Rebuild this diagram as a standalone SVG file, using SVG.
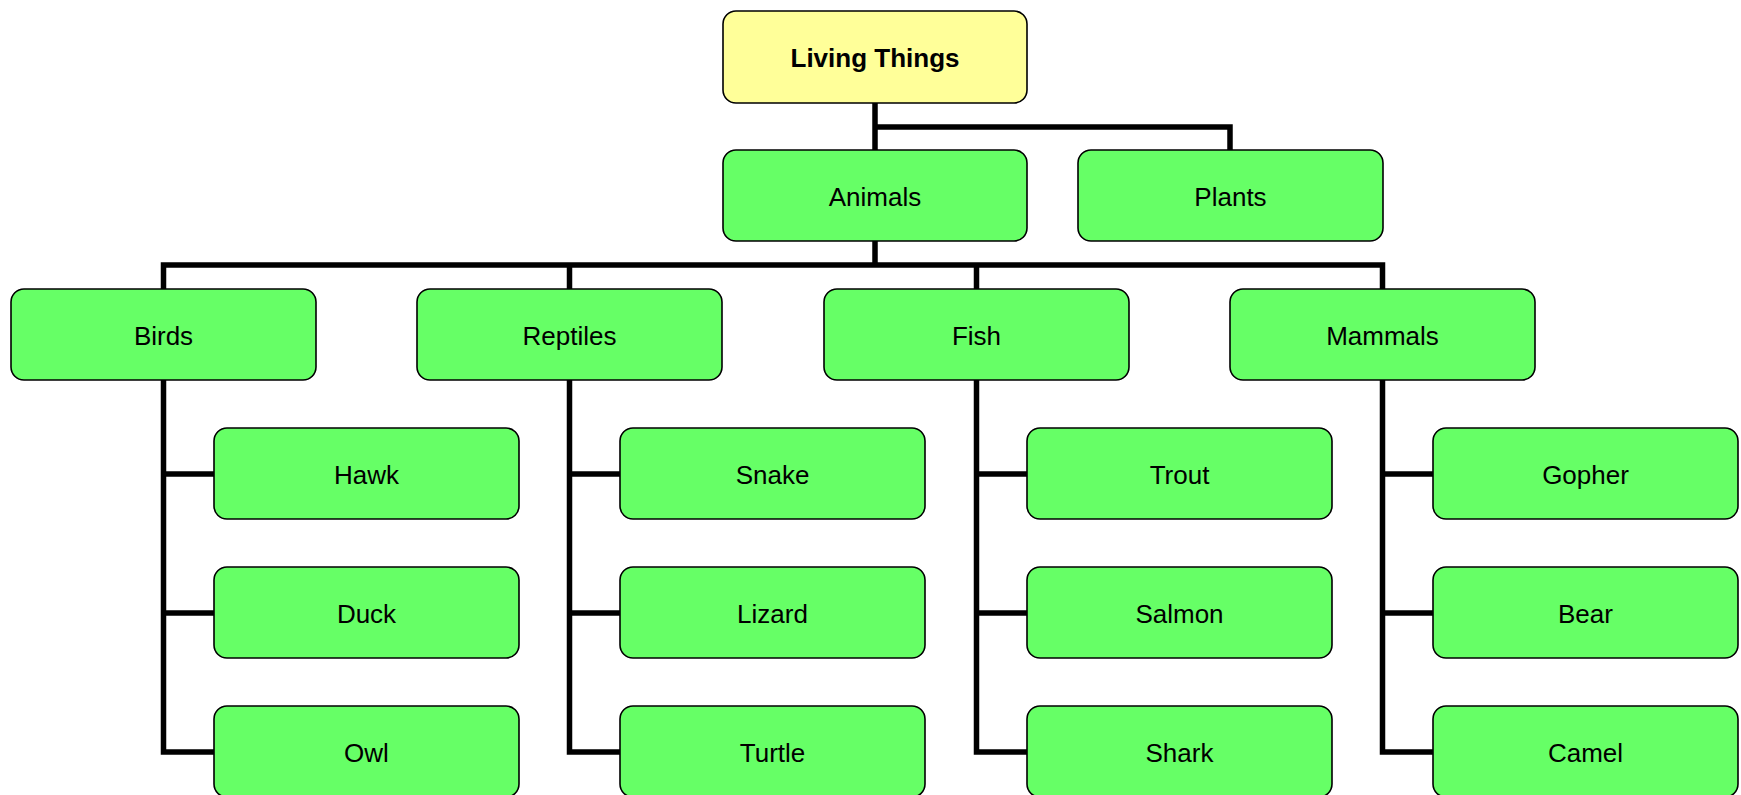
<svg xmlns="http://www.w3.org/2000/svg" width="1741" height="795" viewBox="0 0 1741 795">
<style>
.n rect{fill:#66FF66;stroke:#000;stroke-width:1.6}
.root rect{fill:#FFFF99}
.n text{font-family:"Liberation Sans",Arial,sans-serif;font-size:26px;fill:#000;text-anchor:middle}
.root text{font-weight:bold}
.c{fill:none;stroke:#000;stroke-width:5.5;stroke-linejoin:miter;stroke-linecap:square}
</style>
<rect width="1741" height="795" fill="#fff"/>
<g id="connectors">
<path class="c" d="M875 103V127H1230V150M875 127V150"/>
<path class="c" d="M875 241V265M163.5 289V265H1382.5V289M569.5 265V289M976.5 265V289"/>
<path class="c" d="M163.5 380V752H214M163.5 474H214M163.5 613H214"/>
<path class="c" d="M569.5 380V752H620M569.5 474H620M569.5 613H620"/>
<path class="c" d="M976.5 380V752H1027M976.5 474H1027M976.5 613H1027"/>
<path class="c" d="M1382.5 380V752H1433M1382.5 474H1433M1382.5 613H1433"/>
</g>
<g id="living" class="n root"><rect x="723" y="11" width="304" height="92" rx="13"/><text x="875" y="67">Living Things</text></g>
<g id="animals" class="n"><rect x="723" y="150" width="304" height="91" rx="13"/><text x="875" y="206">Animals</text></g>
<g id="plants" class="n"><rect x="1078" y="150" width="305" height="91" rx="13"/><text x="1230.5" y="206">Plants</text></g>
<g id="birds" class="n"><rect x="11" y="289" width="305" height="91" rx="13"/><text x="163.5" y="345">Birds</text></g>
<g id="reptiles" class="n"><rect x="417" y="289" width="305" height="91" rx="13"/><text x="569.5" y="345">Reptiles</text></g>
<g id="fish" class="n"><rect x="824" y="289" width="305" height="91" rx="13"/><text x="976.5" y="345">Fish</text></g>
<g id="mammals" class="n"><rect x="1230" y="289" width="305" height="91" rx="13"/><text x="1382.5" y="345">Mammals</text></g>
<g id="hawk" class="n"><rect x="214" y="428" width="305" height="91" rx="13"/><text x="366.5" y="484">Hawk</text></g>
<g id="duck" class="n"><rect x="214" y="567" width="305" height="91" rx="13"/><text x="366.5" y="623">Duck</text></g>
<g id="owl" class="n"><rect x="214" y="706" width="305" height="91" rx="13"/><text x="366.5" y="762">Owl</text></g>
<g id="snake" class="n"><rect x="620" y="428" width="305" height="91" rx="13"/><text x="772.5" y="484">Snake</text></g>
<g id="lizard" class="n"><rect x="620" y="567" width="305" height="91" rx="13"/><text x="772.5" y="623">Lizard</text></g>
<g id="turtle" class="n"><rect x="620" y="706" width="305" height="91" rx="13"/><text x="772.5" y="762">Turtle</text></g>
<g id="trout" class="n"><rect x="1027" y="428" width="305" height="91" rx="13"/><text x="1179.5" y="484">Trout</text></g>
<g id="salmon" class="n"><rect x="1027" y="567" width="305" height="91" rx="13"/><text x="1179.5" y="623">Salmon</text></g>
<g id="shark" class="n"><rect x="1027" y="706" width="305" height="91" rx="13"/><text x="1179.5" y="762">Shark</text></g>
<g id="gopher" class="n"><rect x="1433" y="428" width="305" height="91" rx="13"/><text x="1585.5" y="484">Gopher</text></g>
<g id="bear" class="n"><rect x="1433" y="567" width="305" height="91" rx="13"/><text x="1585.5" y="623">Bear</text></g>
<g id="camel" class="n"><rect x="1433" y="706" width="305" height="91" rx="13"/><text x="1585.5" y="762">Camel</text></g>
</svg>
